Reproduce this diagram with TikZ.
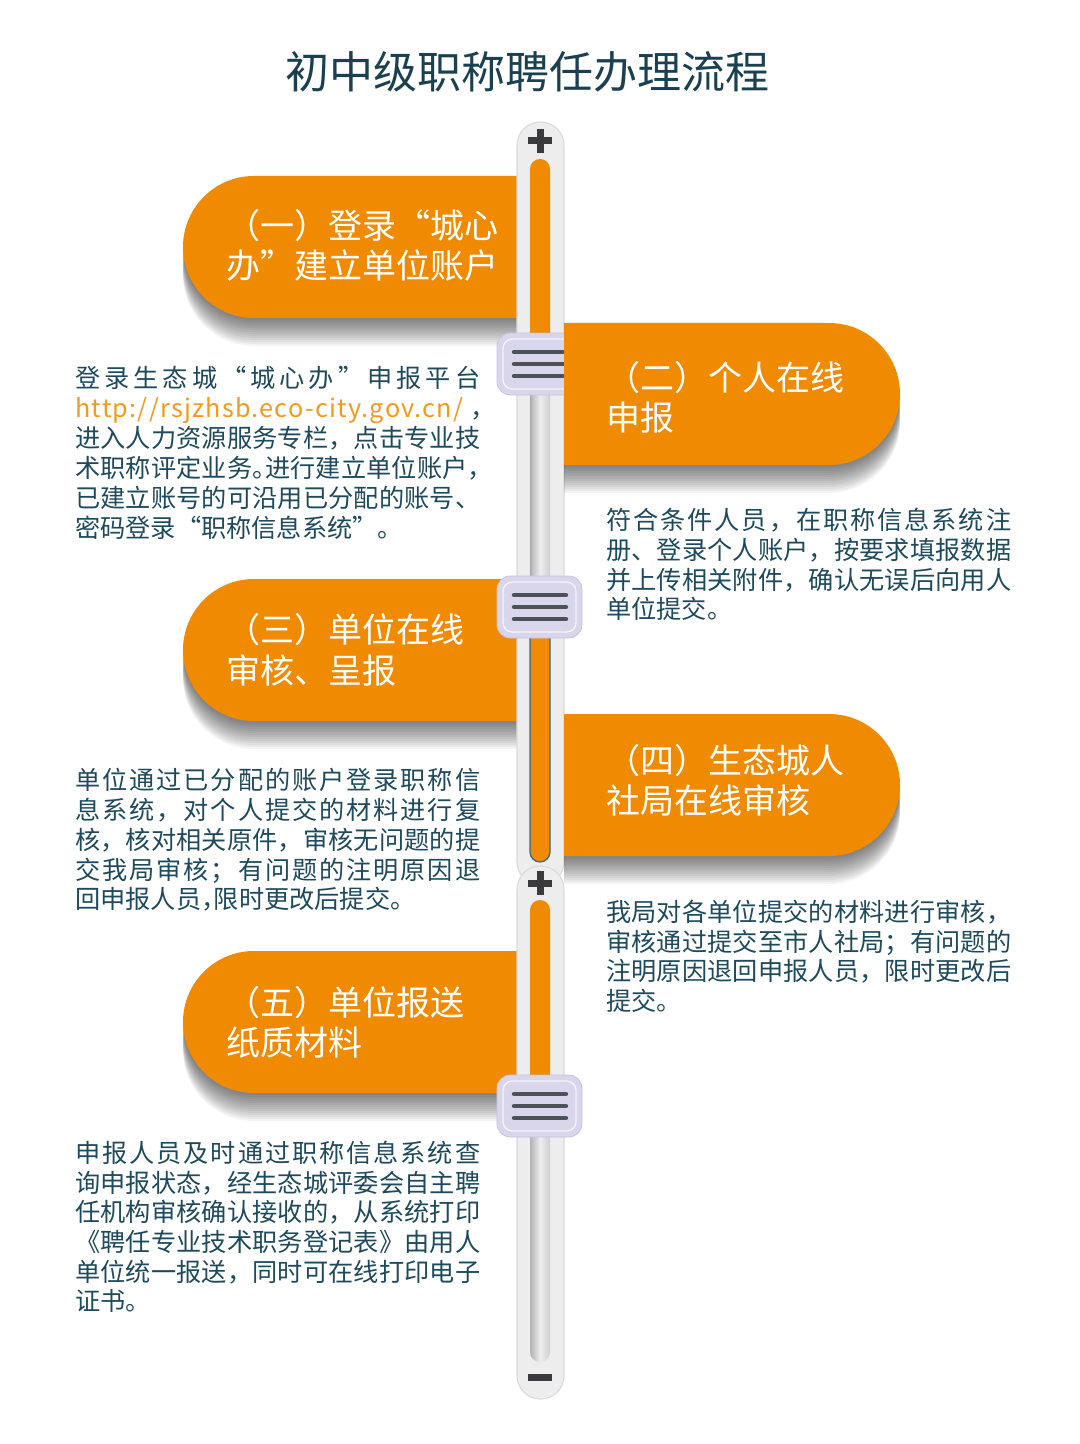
\documentclass[tikz,border=0pt]{standalone}
\usepackage{fontspec}
\setmainfont{Noto Sans CJK SC}
\definecolor{org}{RGB}{240,138,0}
\definecolor{ttlc}{HTML}{1B4150}
\definecolor{txt}{HTML}{1E4A5C}
\definecolor{urlc}{HTML}{F39A1E}
\definecolor{trk}{RGB}{237,237,237}
\definecolor{trkb}{RGB}{218,218,218}
\definecolor{hdl}{RGB}{217,213,234}
\definecolor{hdlb}{RGB}{200,195,222}
\definecolor{hl}{RGB}{78,80,88}
\definecolor{plusc}{RGB}{58,58,60}
\definecolor{blueline}{RGB}{40,105,160}
\newlength\jw \setlength\jw{303.75pt}
\def\jend{JEND}\def\hh{HALF}
\def\jfirst#1{#1\jnext}
\def\jnext#1{\ifx#1\jend\let\jnx\relax\else\ifx#1\hh\let\jnx\jhalf\else\hfil#1\let\jnx\jnext\fi\fi\jnx}
\def\jhalf#1{\hfil\makebox[.5em][l]{#1}\jnext}
\newcommand\J[1]{\makebox[\jw][s]{\jfirst#1\jend}}
\newcommand\lpill[2]{%
  \foreach \k in {1,...,14}{\fill[black,opacity=0.045,rounded corners=53.25pt] (520,{#1+2*\k}) -- (183,{#1+2*\k}) -- (183,{#2+2*\k}) -- (520,{#2+2*\k});}
  \fill[org,rounded corners=53.25pt] (520,#1) -- (183,#1) -- (183,#2) -- (520,#2);}
\newcommand\rpill[2]{%
  \foreach \k in {1,...,14}{\fill[black,opacity=0.045,rounded corners=53.25pt] (564,{#1+2*\k}) -- (900,{#1+2*\k}) -- (900,{#2+2*\k}) -- (564,{#2+2*\k});}
  \fill[org,rounded corners=53.25pt] (564,#1) -- (900,#1) -- (900,#2) -- (564,#2);}
\newcommand\handle[1]{%
  \draw[fill=hdl,draw=hdlb,line width=0.6pt,rounded corners=10pt] (497,{#1-31}) rectangle (582,{#1+31});
  \draw[draw=white,opacity=0.75,line width=1pt,rounded corners=7pt] (503,{#1-25}) rectangle (576,{#1+25});
  \foreach \d in {-12,0,12}{\draw[line width=3.2pt,line cap=round,draw=hl] (514,{#1+\d}) -- (566,{#1+\d});}}
\newcommand\plus[1]{%
  \fill[plusc] (528,{#1-3.5}) rectangle (552,{#1+3.5});
  \fill[plusc] (536.5,{#1-12}) rectangle (543.5,{#1+12});}
\tikzset{
  ttl/.style={font=\fontsize{25.5pt}{30pt}\selectfont,text=white,inner sep=0pt,anchor=base west},
  desc/.style={font=\fontsize{18.9pt}{22.5pt}\selectfont,text=txt,inner sep=0pt,anchor=base west},
}
\begin{document}
\begin{tikzpicture}[x=0.75pt,y=-0.75pt]
\useasboundingbox (0,0) rectangle (1080,1444);
\fill[white] (0,0) rectangle (1080,1444);
% title
\node (title) [font=\fontsize{33pt}{40pt}\selectfont,text=ttlc,inner sep=0pt,anchor=base] at (527,89) {初中级职称聘任办理流程};
% left pills
\lpill{176}{318}
\lpill{579}{721}
\lpill{951}{1093}
% track 1
\draw[fill=trk,draw=trkb,line width=0.8pt,rounded corners=17.5pt] (517,122) rectangle (564,885);
\plus{141}
\fill[org,rounded corners=7.5pt] (530,340) -- (530,159) -- (550,159) -- (550,340);
\shade[left color=gray!60,right color=gray!38,middle color=gray!14] (530,390) rectangle (550,585);
\draw[gray!70,line width=0.8pt] (530.5,390) -- (530.5,585);
\filldraw[fill=org,draw=blueline,line width=0.9pt,rounded corners=7.5pt] (530,630) -- (530,862) -- (550,862) -- (550,630);
% track 2
\draw[fill=trk,draw=trkb,line width=0.8pt,rounded corners=17.5pt] (517,866) rectangle (564,1399);
\plus{883}
\fill[org,rounded corners=7.5pt] (530,1090) -- (530,900) -- (550,900) -- (550,1090);
\shade[left color=gray!60,right color=gray!38,middle color=gray!14,rounded corners=7.5pt] (530,1130) -- (530,1362) -- (550,1362) -- (550,1130);
\fill[plusc] (528,1374) rectangle (552,1381);
% handles
\handle{364}
\handle{607}
\handle{1106}
% right pills
\rpill{323}{465}
\rpill{714}{856}
% pill titles
\node (p1a) [ttl] at (226,239) {（一）登录“城心};
\node (p1b) [ttl] at (226,279) {办”建立单位账户};
\node (p2a) [ttl] at (606,390) {（二）个人在线};
\node (p2b) [ttl] at (606,430) {申报};
\node (p3a) [ttl] at (226,642) {（三）单位在线};
\node (p3b) [ttl] at (226,683) {审核、呈报};
\node (p4a) [ttl] at (606,773) {（四）生态城人};
\node (p4b) [ttl] at (606,813) {社局在线审核};
\node (p5a) [ttl] at (226,1015) {（五）单位报送};
\node (p5b) [ttl] at (226,1055) {纸质材料};
% text 1
\node (d1a) [desc] at (75,387) {\J{登录生态城“城心办”申报平台}};
\node (d1b) [desc] at (75,417) {\makebox[\jw][s]{\textcolor{urlc}{\addfontfeature{LetterSpace=5}http://rsjzhsb.eco-city.gov.cn/}\hfil\makebox[.4em][l]{，}}};
\node (d1c) [desc] at (75,447) {\J{进入人力资源服务专栏，点击专业技}};
\node (d1d) [desc] at (75,477) {\J{术职称评定业务\hh。进行建立单位账户\hh，}};
\node (d1e) [desc] at (75,507) {\J{已建立账号的可沿用已分配的账号、}};
\node (d1f) [desc] at (75,537) {密码登录“职称信息系统”。};
% text 2
\node (d2a) [desc] at (606,529) {\J{符合条件人员，在职称信息系统注}};
\node (d2b) [desc] at (606,559) {\J{册、登录个人账户，按要求填报数据}};
\node (d2c) [desc] at (606,589) {\J{并上传相关附件，确认无误后向用人}};
\node (d2d) [desc] at (606,618) {单位提交。};
% text 3
\node (d3a) [desc] at (75,789) {\J{单位通过已分配的账户登录职称信}};
\node (d3b) [desc] at (75,819) {\J{息系统，对个人提交的材料进行复}};
\node (d3c) [desc] at (75,849) {\J{核，核对相关原件，审核无问题的提}};
\node (d3d) [desc] at (75,879) {\J{交我局审核；有问题的注明原因退}};
\node (d3e) [desc] at (75,908) {回申报人员\makebox[.5em][l]{，}限时更改后提交。};
% text 4
\node (d4a) [desc] at (606,921) {\J{我局对各单位提交的材料进行审核，}};
\node (d4b) [desc] at (606,951) {\J{审核通过提交至市人社局；有问题的}};
\node (d4c) [desc] at (606,980) {\J{注明原因退回申报人员，限时更改后}};
\node (d4d) [desc] at (606,1010) {提交。};
% text 5
\node (d5a) [desc] at (75,1162) {\J{申报人员及时通过职称信息系统查}};
\node (d5b) [desc] at (75,1192) {\J{询申报状态，经生态城评委会自主聘}};
\node (d5c) [desc] at (75,1221) {\J{任机构审核确认接收的，从系统打印}};
\node (d5d) [desc] at (75,1251) {\J{《聘任专业技术职务登记表》由用人}};
\node (d5e) [desc] at (75,1281) {\J{单位统一报送，同时可在线打印电子}};
\node (d5f) [desc] at (75,1310) {证书。};
\end{tikzpicture}
\end{document}
